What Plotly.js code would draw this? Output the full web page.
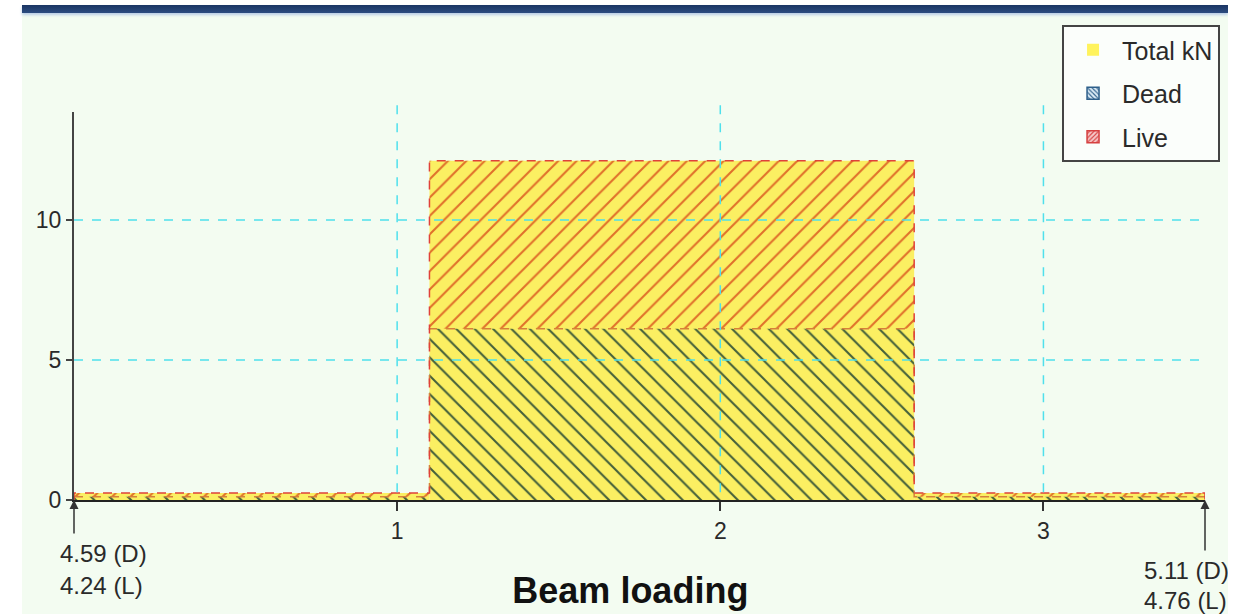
<!DOCTYPE html>
<html>
<head>
<meta charset="utf-8">
<script src="https://cdn.plot.ly/plotly-3.0.1.min.js"></script>
<style>
  html, body { margin:0; padding:0; background:#ffffff; width:1236px; height:614px; overflow:hidden; }
  #bg { position:absolute; left:22px; top:13px; width:1206px; height:601px; background:#f3fcf1; }
  #bar { position:absolute; left:22px; top:5px; width:1206px; height:8px; background:linear-gradient(#1a3563,#2c4c80); box-shadow:0 2px 3px #b9cde6; }
  #chart { position:absolute; left:0; top:0; width:1236px; height:614px; }
  #cut { position:absolute; left:1228px; top:0; width:8px; height:614px; background:#ffffff; }
</style>
</head>
<body>
<div id="bg"></div>
<div id="bar"></div>
<div id="chart"></div>
<div id="cut"></div>
<script>
// Beam segments (m) and loads (kN/m)
const segStart = [0, 1.1, 2.6];
const segEnd   = [1.1, 2.6, 3.5];
const deadLoad = [0.12, 6.12, 0.12];
const liveLoad = [0.13, 6.0, 0.13];
const beamLength = 3.5;

// Reactions
const reactPos  = [0, 3.5];
const reactDead = ["4.59", "5.11"];
const reactLive = ["4.24", "4.76"];

// Axis ticks
const xTicks = [1, 2, 3];
const yTicks = [0, 5, 10];
const yMax = 13.86;

const totalLoad = deadLoad.map((d, i) => d + liveLoad[i]);
const centers = segStart.map((s, i) => (s + segEnd[i]) / 2);
const widths  = segStart.map((s, i) => segEnd[i] - s);

const yellow = '#fbef62';
const font = 'Liberation Sans, Arial, sans-serif';

// outline of total load (step)
const outX = [segStart[0]], outY = [0];
segStart.forEach((s, i) => { outX.push(s, segEnd[i]); outY.push(totalLoad[i], totalLoad[i]); });
outX.push(segEnd[segEnd.length - 1]); outY.push(0);

// dead/live boundary
const bndX = [], bndY = [];
segStart.forEach((s, i) => { bndX.push(s, segEnd[i]); bndY.push(deadLoad[i], deadLoad[i]); });

const traces = [
  { type:'bar', x:centers, y:totalLoad, width:widths, base:0,
    marker:{ color:yellow, line:{width:0} }, showlegend:false, hoverinfo:'skip' },
  { type:'bar', x:centers, y:deadLoad, width:widths, base:0,
    marker:{ color:'rgba(0,0,0,0)', line:{width:0},
      pattern:{ shape:'\\', fgcolor:'#44603a', bgcolor:'rgba(0,0,0,0)', size:13, solidity:0.16 } },
    showlegend:false, hoverinfo:'skip' },
  { type:'bar', x:centers, y:liveLoad, width:widths, base:deadLoad,
    marker:{ color:'rgba(0,0,0,0)', line:{width:0},
      pattern:{ shape:'/', fgcolor:'#e0702a', bgcolor:'rgba(0,0,0,0)', size:13, solidity:0.16 } },
    showlegend:false, hoverinfo:'skip' },
  { type:'scatter', mode:'lines', x:bndX, y:bndY, line:{color:'#d5803a', width:1.5, dash:'dash'},
    showlegend:false, hoverinfo:'skip' },
  { type:'scatter', mode:'lines', x:outX, y:outY, line:{color:'#e0413a', width:1.5, dash:'dash'},
    showlegend:false, hoverinfo:'skip' },
  // legend entries
  { type:'bar', name:'Total kN', x:[null], y:[null], legendgroup:'a',
    marker:{ color:'#fff35c', line:{width:0} } },
  { type:'bar', name:'Dead', x:[null], y:[null], legendgroup:'b',
    marker:{ color:'#dcecf6', line:{color:'#2d5f8a', width:1.5},
      pattern:{ shape:'\\', fgcolor:'#2d5f8a', bgcolor:'#dcecf6', size:4, solidity:0.35 } } },
  { type:'bar', name:'Live', x:[null], y:[null], legendgroup:'c',
    marker:{ color:'#f6c8c8', line:{color:'#d64040', width:1.5},
      pattern:{ shape:'/', fgcolor:'#d64040', bgcolor:'#f6c8c8', size:4, solidity:0.35 } } }
];

const shapes = [];
xTicks.forEach(v => shapes.push({ type:'line', xref:'x', yref:'paper', x0:v, x1:v, y0:0.02, y1:1.02,
  line:{color:'#4fe0ec', width:1.5, dash:'dash'}, layer:'above' }));
yTicks.filter(v => v > 0).forEach(v => shapes.push({ type:'line', xref:'x', yref:'y', x0:0, x1:beamLength, y0:v, y1:v,
  line:{color:'#4fe0ec', width:1.5, dash:'dash'}, layer:'above' }));

const annotations = [];
const tails = [35, 52];
const lblShift = [[-53, -85], [-70, -100]];
const lblX = [-16, -63];
reactPos.forEach((p, i) => {
  annotations.push({ x:p, y:0, xref:'x', yref:'y', text:'', showarrow:true, arrowhead:2, arrowsize:1.2,
    arrowwidth:1.5, arrowcolor:'#333', ax:0, ay:tails[i], standoff:0 });
  annotations.push({ x:p, y:0, xref:'x', yref:'y', text:reactDead[i] + ' (D)', showarrow:false,
    xanchor:'left', yanchor:'middle', xshift:lblX[i], yshift:lblShift[i][0],
    font:{family:font, size:24, color:'#2a2a2a'} });
  annotations.push({ x:p, y:0, xref:'x', yref:'y', text:reactLive[i] + ' (L)', showarrow:false,
    xanchor:'left', yanchor:'middle', xshift:lblX[i], yshift:lblShift[i][1],
    font:{family:font, size:24, color:'#2a2a2a'} });
});

const layout = {
  width:1236, height:614,
  margin:{l:74, r:31, t:112, b:114, pad:0},
  paper_bgcolor:'rgba(0,0,0,0)', plot_bgcolor:'rgba(0,0,0,0)',
  barmode:'overlay',
  font:{family:font, size:22, color:'#333'},
  title:{ text:'Beam loading', x:0.51, xanchor:'center', y:0.038, yanchor:'middle', yref:'container',
    font:{family:font, size:36, weight:'bold', color:'#111'} },
  xaxis:{ range:[0, beamLength], tickvals:xTicks, ticktext:xTicks.map(String), showgrid:false, zeroline:false,
    showline:true, linecolor:'#222', linewidth:2, ticks:'outside', ticklen:9, tickwidth:2, tickcolor:'#333',
    tickfont:{family:font, size:23, color:'#2a2a2a'}, fixedrange:true },
  yaxis:{ range:[0, yMax], tickvals:yTicks, ticktext:yTicks.map(String), showgrid:false, zeroline:false,
    showline:true, linecolor:'#444', linewidth:2, ticks:'outside', ticklen:6, tickwidth:1.5, tickcolor:'#444',
    tickfont:{family:font, size:23, color:'#2a2a2a'}, fixedrange:true },
  legend:{ x:0.8736, y:1.2242, xanchor:'left', yanchor:'top', bgcolor:'#fbfefb', bordercolor:'#444', borderwidth:2,
    font:{family:font, size:25, color:'#2a2a2a'}, tracegroupgap:8, traceorder:'grouped', itemwidth:48 },
  shapes: shapes,
  annotations: annotations,
  showlegend:true
};

Plotly.newPlot('chart', traces, layout, {staticPlot:true, displayModeBar:false});
</script>
</body>
</html>
